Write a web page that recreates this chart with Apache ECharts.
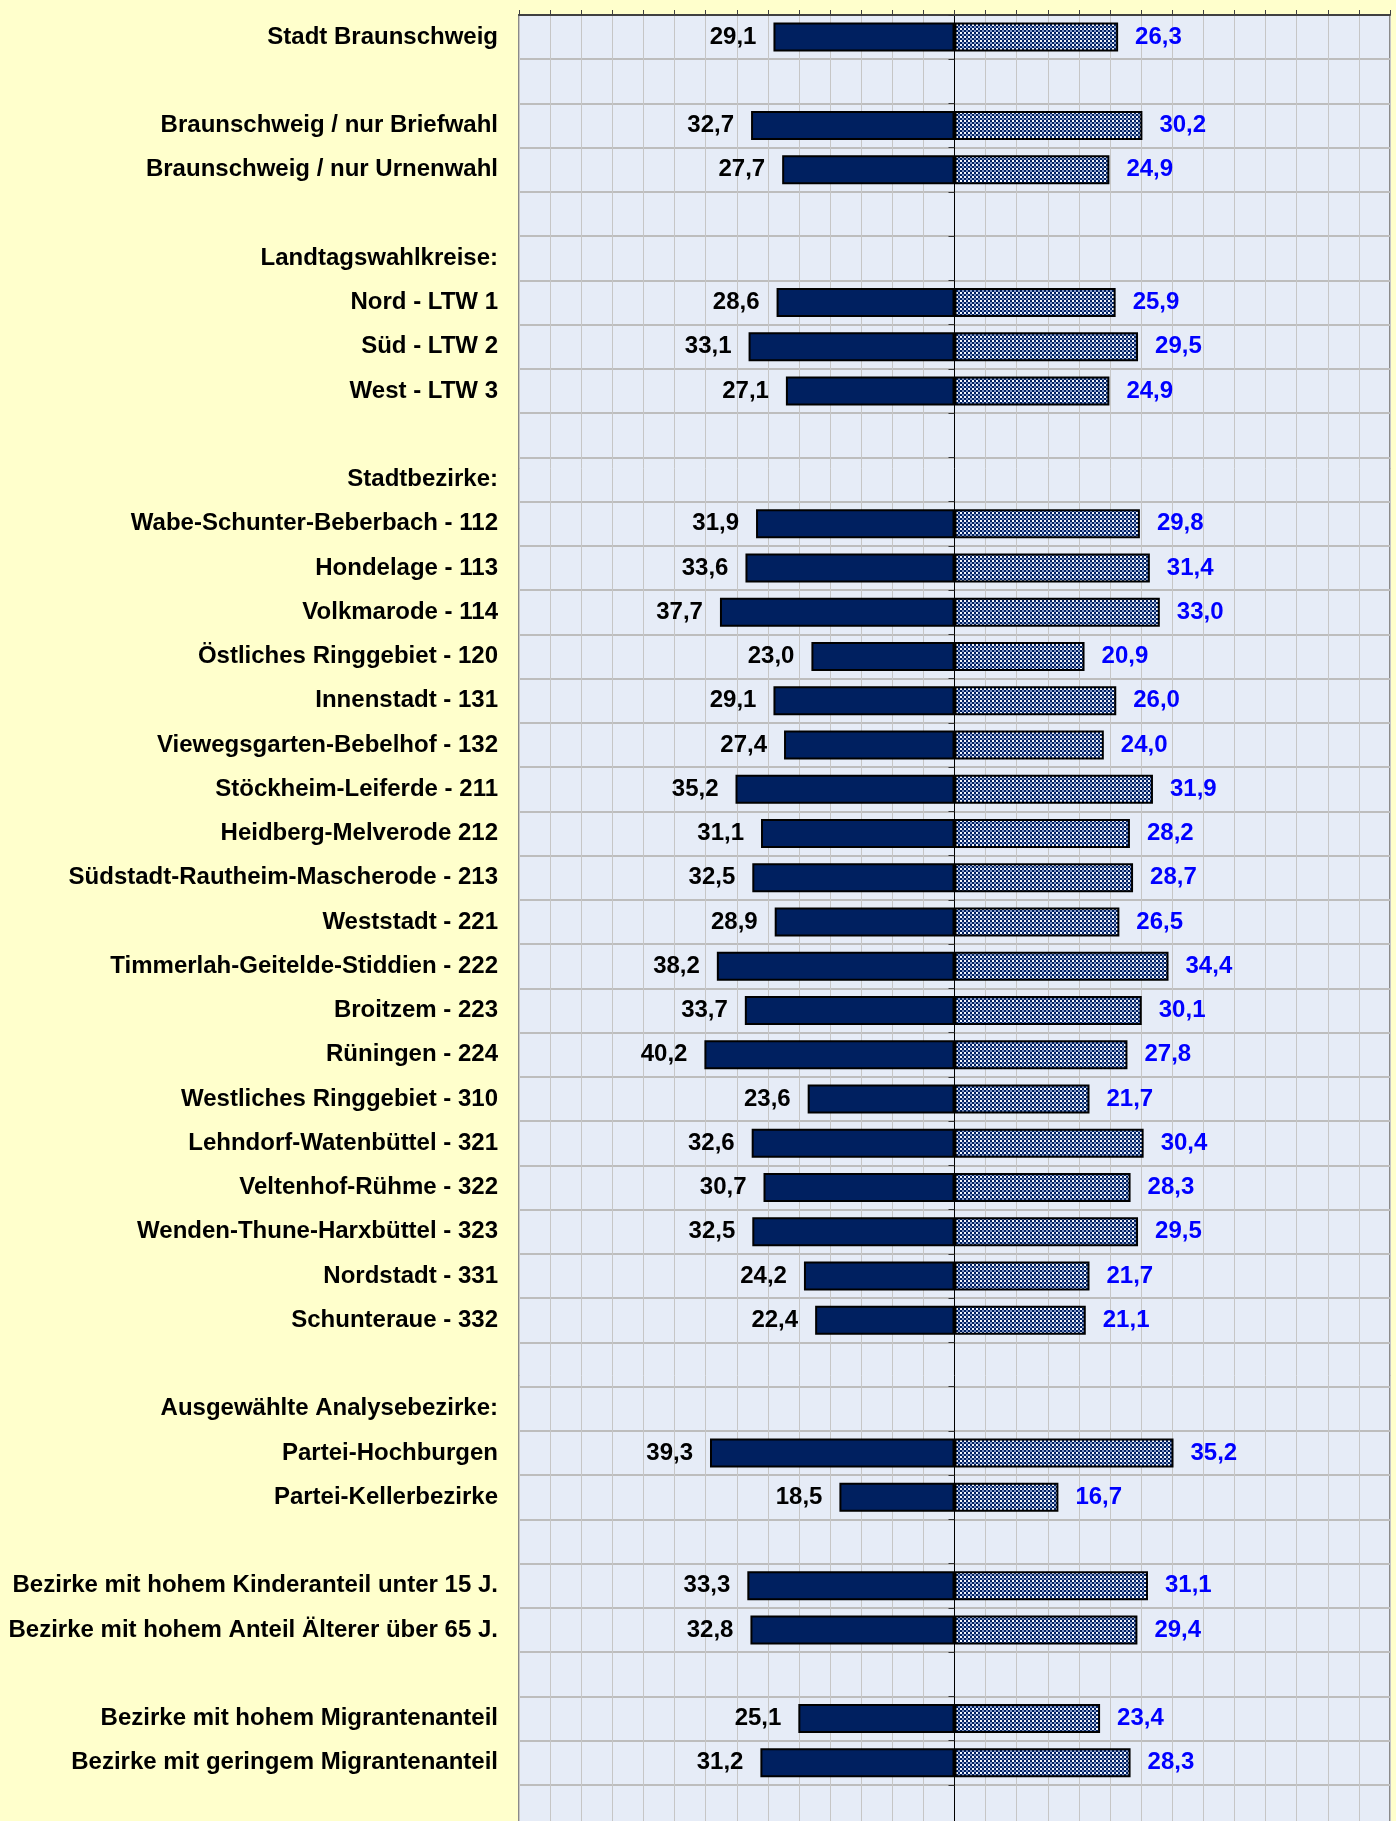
<!DOCTYPE html>
<html lang="de">
<head>
<meta charset="utf-8">
<title>Stimmenanteile Braunschweig</title>
<script src="https://cdn.jsdelivr.net/npm/echarts@6/dist/echarts.min.js"></script>
<style>
  html, body { margin: 0; padding: 0; background: #FFFFCC; overflow: hidden; }
  /* the plot runs on past the lower page edge, so the canvas is cut off by the frame */
  #frame { width: 1396px; height: 1821px; overflow: hidden; }
  #chart { width: 1396px; height: 1832px; }
</style>
</head>
<body>
<div id="frame"><div id="chart"></div></div>
<script>
// Row labels (empty strings are spacer rows)
const categories = [
  'Stadt Braunschweig',
  '',
  'Braunschweig / nur Briefwahl',
  'Braunschweig / nur Urnenwahl',
  '',
  'Landtagswahlkreise:',
  'Nord - LTW 1',
  'Süd - LTW 2',
  'West - LTW 3',
  '',
  'Stadtbezirke:',
  'Wabe-Schunter-Beberbach - 112',
  'Hondelage - 113',
  'Volkmarode - 114',
  'Östliches Ringgebiet - 120',
  'Innenstadt - 131',
  'Viewegsgarten-Bebelhof - 132',
  'Stöckheim-Leiferde - 211',
  'Heidberg-Melverode 212',
  'Südstadt-Rautheim-Mascherode - 213',
  'Weststadt - 221',
  'Timmerlah-Geitelde-Stiddien - 222',
  'Broitzem - 223',
  'Rüningen - 224',
  'Westliches Ringgebiet - 310',
  'Lehndorf-Watenbüttel - 321',
  'Veltenhof-Rühme - 322',
  'Wenden-Thune-Harxbüttel - 323',
  'Nordstadt - 331',
  'Schunteraue - 332',
  '',
  'Ausgewählte Analysebezirke:',
  'Partei-Hochburgen',
  'Partei-Kellerbezirke',
  '',
  'Bezirke mit hohem Kinderanteil unter 15 J.',
  'Bezirke mit hohem Anteil Älterer über 65 J.',
  '',
  'Bezirke mit hohem Migrantenanteil',
  'Bezirke mit geringem Migrantenanteil',
  ''
];

// Left-hand values (solid bars)
const valuesLeft = [
  29.1, null, 32.7, 27.7, null, null,
  28.6, 33.1, 27.1, null, null,
  31.9, 33.6, 37.7, 23.0, 29.1, 27.4, 35.2, 31.1, 32.5, 28.9,
  38.2, 33.7, 40.2, 23.6, 32.6, 30.7, 32.5, 24.2, 22.4,
  null, null, 39.3, 18.5, null, 33.3, 32.8, null, 25.1, 31.2, null
];

// Right-hand values (hatched bars)
const valuesRight = [
  26.3, null, 30.2, 24.9, null, null,
  25.9, 29.5, 24.9, null, null,
  29.8, 31.4, 33.0, 20.9, 26.0, 24.0, 31.9, 28.2, 28.7, 26.5,
  34.4, 30.1, 27.8, 21.7, 30.4, 28.3, 29.5, 21.7, 21.1,
  null, null, 35.2, 16.7, null, 31.1, 29.4, null, 23.4, 28.3, null
];

const NAVY = '#002060';
const FONT = '"Liberation Sans", Arial, sans-serif';

// 2px checkerboard fill for the right-hand bars
function checkerPattern() {
  const c = document.createElement('canvas');
  c.width = 4; c.height = 4;
  const g = c.getContext('2d');
  g.fillStyle = NAVY;
  g.fillRect(0, 0, 4, 4);
  g.fillStyle = '#f2f5fc';
  g.fillRect(0, 0, 2, 2);
  g.fillStyle = '#7f95c6';
  g.fillRect(2, 2, 2, 2);
  return c;
}

const fmt = v => Math.abs(v).toFixed(1).replace('.', ',');

const chart = echarts.init(document.getElementById('chart'), null, { renderer: 'canvas' });

chart.setOption({
  animation: false,
  backgroundColor: '#FFFFCC',
  grid: {
    left: 519,
    top: 15,
    width: 871,
    height: 1814,
    show: true,
    backgroundColor: '#E6ECF7',
    borderColor: '#8a8a8a',
    borderWidth: 2,
    containLabel: false
  },
  xAxis: {
    type: 'value',
    position: 'top',
    min: -70,
    max: 70,
    interval: 5,
    axisLine: { show: true, onZero: false, lineStyle: { color: '#404040', width: 2 } },
    axisTick: { show: true, length: 5, lineStyle: { color: '#404040', width: 1 } },
    axisLabel: { show: false },
    splitLine: { show: true, lineStyle: { color: '#c6c6c6', width: 1 } }
  },
  yAxis: [
    {
      type: 'category',
      inverse: true,
      data: categories,
      position: 'left',
      axisLine: { show: false, onZero: false },
      axisTick: { show: false },
      axisLabel: {
        interval: 0,
        margin: 21,
        color: '#000',
        fontFamily: FONT,
        fontWeight: 'bold',
        fontSize: 24
      },
      splitLine: { show: true, interval: 0, lineStyle: { color: '#bdbdbd', width: 2 } }
    },
    {
      type: 'category',
      inverse: true,
      data: categories,
      position: 'left',
      axisLine: { show: true, onZero: true, lineStyle: { color: '#000', width: 1 } },
      axisTick: { show: true, interval: 0, length: 6, lineStyle: { color: '#333', width: 1 } },
      axisLabel: { show: false },
      splitLine: { show: false }
    }
  ],
  series: [
    {
      name: 'links',
      type: 'bar',
      stack: 'gesamt',
      yAxisIndex: 0,
      barWidth: 29,
      data: valuesLeft.map(v => v == null ? '-' : -v),
      itemStyle: { color: NAVY, borderColor: '#000', borderWidth: 2 },
      label: {
        show: true,
        position: 'left',
        distance: 17,
        color: '#000',
        fontFamily: FONT,
        fontWeight: 'bold',
        fontSize: 24,
        formatter: p => fmt(p.value)
      },
      z: 3
    },
    {
      name: 'rechts',
      type: 'bar',
      stack: 'gesamt',
      yAxisIndex: 0,
      barWidth: 29,
      data: valuesRight.map(v => v == null ? '-' : v),
      itemStyle: {
        color: { image: checkerPattern(), repeat: 'repeat' },
        borderColor: '#000',
        borderWidth: 2
      },
      label: {
        show: true,
        position: 'right',
        distance: 17,
        color: '#0000FF',
        fontFamily: FONT,
        fontWeight: 'bold',
        fontSize: 24,
        formatter: p => fmt(p.value)
      },
      z: 3
    }
  ]
});
</script>
</body>
</html>
